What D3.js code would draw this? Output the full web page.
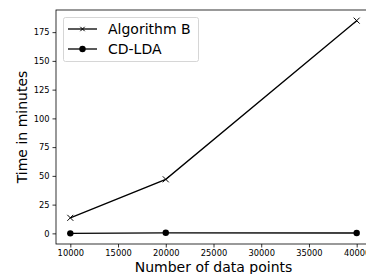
<!DOCTYPE html>
<html>
<head>
<meta charset="utf-8">
<script src="https://cdn.jsdelivr.net/npm/d3@7"></script>
<style>
  body { margin: 0; background: #fff; }
  svg { font-family: "DejaVu Sans", sans-serif; }
</style>
</head>
<body>
<div id="chart"></div>
<script>
var dataPoints = [10000, 20000, 40000];
var algoB = [13.5, 47, 185];
var cdLda = [0, 0.5, 0.3];
var xTicks = [10000, 15000, 20000, 25000, 30000, 35000, 40000];
var yTicks = [0, 25, 50, 75, 100, 125, 150, 175];

var width = 366, height = 274;
var plotLeft = 56, plotTop = 10, plotRight = 371, plotBottom = 244;

var svg = d3.select("#chart").append("svg")
  .attr("width", width)
  .attr("height", height);

var x = d3.scaleLinear().domain([8500, 41500]).range([plotLeft, plotRight]);
var y = d3.scaleLinear().domain([-9.25, 194.25]).range([plotBottom, plotTop]);

// axes
var xAxis = svg.append("g")
  .attr("transform", "translate(0," + plotBottom + ")")
  .call(d3.axisBottom(x).tickValues(xTicks).tickSize(3.5).tickPadding(2.5).tickFormat(d3.format("d")));
var yAxis = svg.append("g")
  .attr("transform", "translate(" + plotLeft + ",0)")
  .call(d3.axisLeft(y).tickValues(yTicks).tickSize(3.5).tickPadding(3));

[xAxis, yAxis].forEach(function(a) {
  a.selectAll("text").attr("font-size", "8.3px").attr("fill", "#000").attr("font-family", "DejaVu Sans");
  a.selectAll("line").attr("stroke", "#000").attr("stroke-width", 0.8);
  a.select(".domain").remove();
});

// frame
svg.append("rect")
  .attr("x", plotLeft).attr("y", plotTop)
  .attr("width", plotRight - plotLeft).attr("height", plotBottom - plotTop)
  .attr("fill", "none").attr("stroke", "#000").attr("stroke-width", 0.8);

var line = d3.line()
  .x(function(d) { return x(d[0]); })
  .y(function(d) { return y(d[1]); });

var seriesB = dataPoints.map(function(v, i) { return [v, algoB[i]]; });
var seriesC = dataPoints.map(function(v, i) { return [v, cdLda[i]]; });

svg.append("path").datum(seriesB).attr("d", line)
  .attr("fill", "none").attr("stroke", "#000").attr("stroke-width", 1.3);
svg.append("path").datum(seriesC).attr("d", line)
  .attr("fill", "none").attr("stroke", "#000").attr("stroke-width", 1.3);

function xMark(g, cx, cy, s) {
  g.append("path")
    .attr("d", "M" + (cx - s) + "," + (cy - s) + "L" + (cx + s) + "," + (cy + s) +
               "M" + (cx - s) + "," + (cy + s) + "L" + (cx + s) + "," + (cy - s))
    .attr("stroke", "#000").attr("stroke-width", 1);
}

seriesB.forEach(function(d) { xMark(svg, x(d[0]), y(d[1]), 3); });
svg.selectAll("circle.cd").data(seriesC).enter().append("circle")
  .attr("class", "cd")
  .attr("cx", function(d) { return x(d[0]); })
  .attr("cy", function(d) { return y(d[1]); })
  .attr("r", 3.2).attr("fill", "#000");

// legend
var legend = svg.append("g");
legend.append("rect")
  .attr("x", 63.5).attr("y", 17.5).attr("width", 135).attr("height", 44).attr("rx", 2)
  .attr("fill", "#fff").attr("fill-opacity", 0.8).attr("stroke", "#ccc").attr("stroke-width", 0.8);
var legendItems = ["Algorithm B", "CD-LDA"];
legendItems.forEach(function(name, i) {
  var ly = 29 + i * 20;
  legend.append("line").attr("x1", 68).attr("x2", 97).attr("y1", ly).attr("y2", ly)
    .attr("stroke", "#000").attr("stroke-width", 1.3);
  if (i == 0) xMark(legend, 82.5, ly, 2.2);
  else legend.append("circle").attr("cx", 82.5).attr("cy", ly).attr("r", 3.2).attr("fill", "#000");
  legend.append("text").attr("x", 108).attr("y", ly + 5)
    .attr("font-size", "14px").text(name);
});

// axis labels
svg.append("text")
  .attr("x", (plotLeft + plotRight) / 2).attr("y", 272)
  .attr("text-anchor", "middle").attr("font-size", "14px")
  .text("Number of data points");
svg.append("text")
  .attr("transform", "translate(27," + ((plotTop + plotBottom) / 2) + ") rotate(-90)")
  .attr("text-anchor", "middle").attr("font-size", "14px")
  .text("Time in minutes");
</script>
</body>
</html>
